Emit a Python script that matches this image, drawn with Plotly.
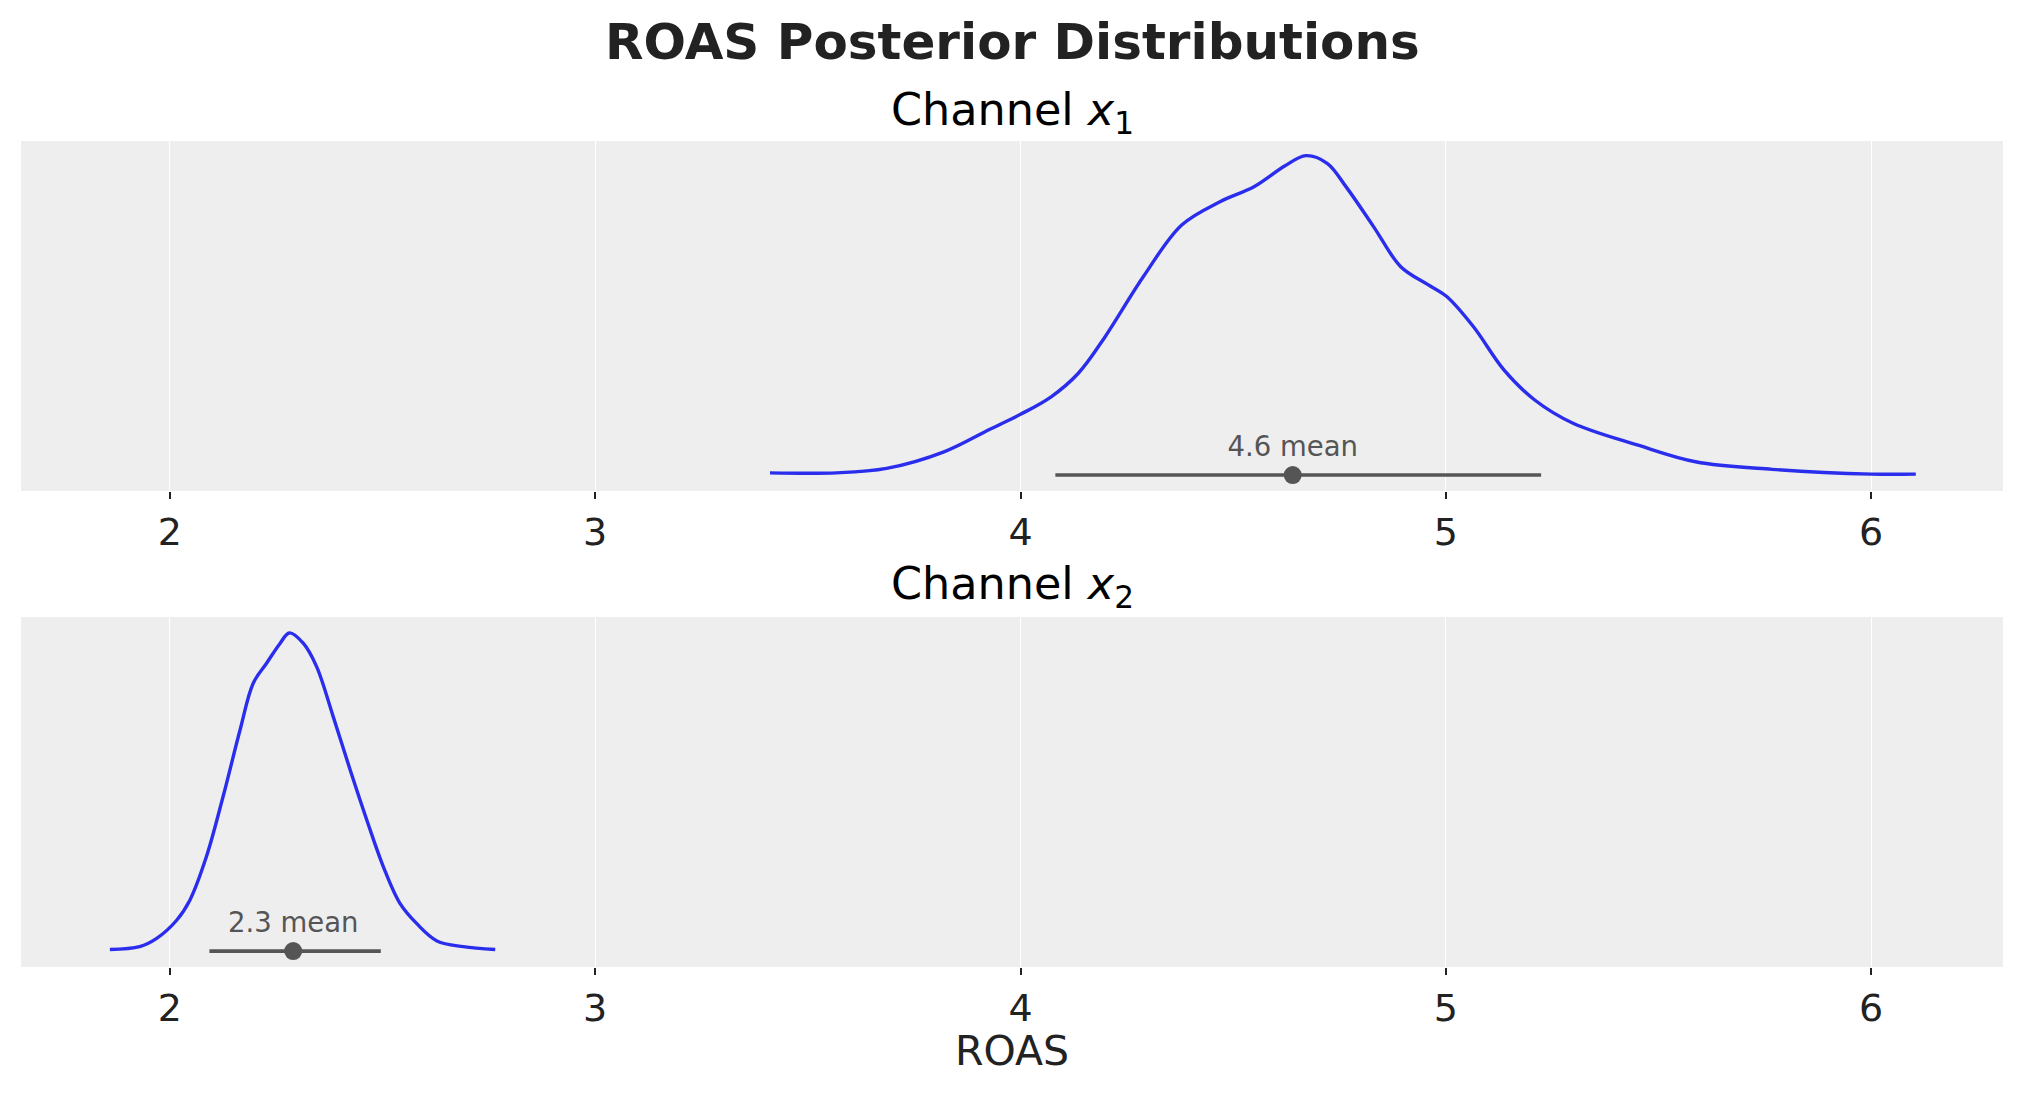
import plotly.graph_objects as go
from plotly.subplots import make_subplots

# posterior kde (density scaled so peak ~ 1)
x1_grid = [3.411, 3.568, 3.685, 3.820, 3.928, 4.000, 4.072, 4.136, 4.199, 4.289,
           4.379, 4.469, 4.550, 4.622, 4.671, 4.721, 4.766, 4.830, 4.894, 4.956,
           5.002, 5.065, 5.137, 5.209, 5.299, 5.452, 5.587, 5.767, 6.001, 6.105]
x1_dens = [0.007, 0.007, 0.021, 0.073, 0.144, 0.191, 0.246, 0.320, 0.435, 0.624,
           0.786, 0.859, 0.907, 0.972, 1.004, 0.980, 0.905, 0.781, 0.655, 0.600,
           0.561, 0.466, 0.330, 0.236, 0.163, 0.094, 0.042, 0.018, 0.003, 0.003]

x2_grid = [1.859, 1.929, 1.969, 2.016, 2.047, 2.086, 2.125, 2.165, 2.196, 2.227,
           2.259, 2.281, 2.314, 2.345, 2.384, 2.424, 2.463, 2.502, 2.541, 2.580,
           2.628, 2.690, 2.765]
x2_dens = [0.005, 0.014, 0.040, 0.097, 0.160, 0.297, 0.485, 0.695, 0.842, 0.904,
           0.967, 1.000, 0.967, 0.894, 0.737, 0.569, 0.412, 0.265, 0.150, 0.087,
           0.032, 0.014, 0.005]

channels = ["Channel <i>x</i><sub>1</sub>", "Channel <i>x</i><sub>2</sub>"]
means = [4.64, 2.29]
hdi_low = [4.082, 2.093]
hdi_high = [5.224, 2.496]
x_ticks = [2, 3, 4, 5, 6]

grids = [x1_grid, x2_grid]
dens = [x1_dens, x2_dens]

fig = make_subplots(rows=2, cols=1, vertical_spacing=0.1526)

for i in range(2):
    r = i + 1
    fig.add_trace(go.Scatter(
        x=grids[i], y=dens[i], mode="lines",
        line=dict(color="#2a2eec", width=3.4, shape="spline", smoothing=1.0),
        showlegend=False, hoverinfo="skip"
    ), row=r, col=1)
    # hdi bar + mean point
    fig.add_trace(go.Scatter(
        x=[hdi_low[i], hdi_high[i]], y=[0, 0], mode="lines",
        line=dict(color="#555555", width=3.6),
        showlegend=False
    ), row=r, col=1)
    fig.add_trace(go.Scatter(
        x=[means[i]], y=[0], mode="markers+text",
        marker=dict(color="#555555", size=18),
        text=[f"{means[i]:.1f} mean"], textposition="top center",
        textfont=dict(size=27.5, color="#555555", family="DejaVu Sans"),
        showlegend=False
    ), row=r, col=1)

axis_style = dict(
    range=[1.65, 6.31], tickvals=x_ticks, showgrid=True, gridcolor="white",
    gridwidth=1.3, zeroline=False, showline=False, ticks="outside", ticklen=7,
    tickwidth=1.5, tickcolor="#222222",
    tickfont=dict(size=38, color="#222222", family="DejaVu Sans")
)
fig.update_xaxes(**axis_style)
fig.update_yaxes(range=[-0.05, 1.05], showticklabels=False, showgrid=False,
                 zeroline=False, ticks="")

fig.add_annotation(text="<b>ROAS Posterior Distributions</b>", x=0.5, y=1.1199,
                   xref="paper", yref="paper", showarrow=False, yanchor="middle",
                   font=dict(size=50, color="#222222", family="DejaVu Sans"))
fig.add_annotation(text=channels[0], x=0.5, y=1.0339, xref="paper", yref="paper",
                   showarrow=False, yanchor="middle",
                   font=dict(size=44.5, color="black", family="DejaVu Sans"))
fig.add_annotation(text=channels[1], x=0.5, y=0.4601, xref="paper", yref="paper",
                   showarrow=False, yanchor="middle",
                   font=dict(size=44.5, color="black", family="DejaVu Sans"))
fig.add_annotation(text="ROAS", x=0.5, y=-0.1017, xref="paper", yref="paper",
                   showarrow=False, yanchor="middle",
                   font=dict(size=41, color="#222222", family="DejaVu Sans"))

# page puts the figure 8px in from the corner, so shrink it to fit the window
fig.update_layout(
    width=2015, height=1088,
    margin=dict(l=13, r=20, t=133, b=129),
    paper_bgcolor="white", plot_bgcolor="#eeeeee",
    font=dict(family="DejaVu Sans")
)

fig.write_html("out.html")
